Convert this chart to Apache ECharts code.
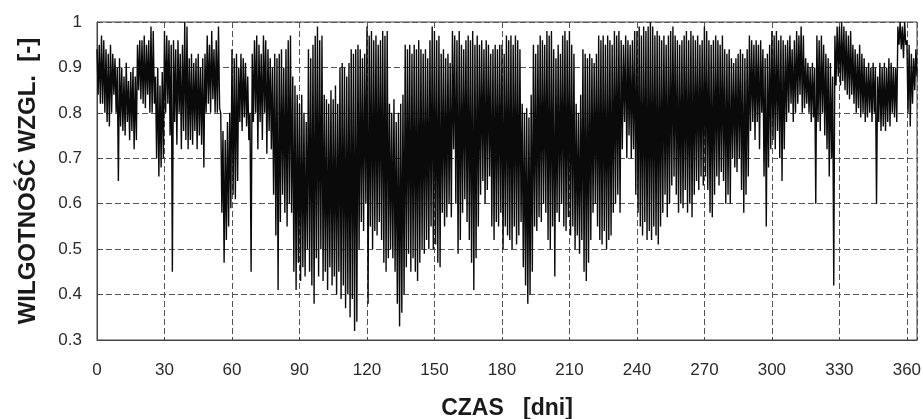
<!DOCTYPE html>
<html>
<head>
<meta charset="utf-8">
<script src="https://cdn.jsdelivr.net/npm/echarts@6/dist/echarts.min.js"></script>
<style>html,body{margin:0;padding:0;background:#fff}#c{width:923px;height:419px}</style>
</head>
<body>
<div id="c"></div>
<script>
// daily maximum of relative humidity (day 0..364)
const dailyMax = [
0.94,0.95,0.97,0.96,0.94,0.93,0.95,0.93,0.92,0.90,
0.92,0.90,0.88,0.91,0.87,0.89,0.90,0.88,0.95,0.96,
0.96,0.97,0.95,0.96,0.99,0.98,0.88,0.90,0.86,0.89,
0.98,0.97,0.96,0.95,0.96,0.94,0.96,0.93,0.95,1.00,
0.99,0.92,0.93,0.91,0.92,0.93,0.90,0.92,0.93,0.97,
0.95,0.98,0.94,0.96,0.99,0.80,0.76,0.74,0.78,0.80,
0.94,0.92,0.93,0.90,0.93,0.92,0.91,0.88,0.80,0.93,
0.96,0.97,0.95,0.93,0.97,0.96,0.94,0.92,0.90,0.93,
0.92,0.93,0.94,0.90,0.94,0.96,0.97,0.88,0.86,0.84,
0.82,0.84,0.80,0.78,0.94,0.92,0.95,0.97,0.99,0.96,
0.97,0.84,0.83,0.82,0.85,0.83,0.86,0.82,0.90,0.91,
0.90,0.88,0.91,0.94,0.93,0.94,0.95,0.94,0.92,0.93,
0.99,0.97,0.98,0.96,0.97,0.95,0.96,0.98,0.97,0.98,
0.82,0.80,0.83,0.78,0.80,0.82,0.84,0.95,0.94,0.95,
0.93,0.95,0.94,0.96,0.94,0.93,0.94,0.92,0.96,0.99,
0.98,0.96,0.97,0.93,0.94,0.92,0.93,0.91,0.98,0.97,
0.96,0.98,0.95,0.94,0.96,0.97,0.96,0.98,0.95,0.97,
0.95,0.96,0.94,0.96,0.95,0.93,0.94,0.95,0.94,0.95,
0.95,0.93,0.97,0.96,0.97,0.95,0.97,0.96,0.94,0.82,
0.80,0.81,0.79,0.84,0.95,0.93,0.95,0.97,0.96,0.95,
0.98,0.97,0.98,0.94,0.92,0.95,0.93,0.97,0.98,0.96,
0.98,0.95,0.93,0.82,0.80,0.84,0.94,0.93,0.92,0.93,
0.92,0.91,0.93,0.97,0.96,0.97,0.95,0.97,0.96,0.95,
0.98,0.97,0.98,0.96,0.95,0.97,0.96,0.95,0.96,0.98,
0.98,0.99,0.97,0.99,0.98,0.99,1.00,0.99,0.97,0.98,
0.97,0.96,0.97,0.95,0.97,0.98,0.99,0.97,0.96,0.95,
0.96,0.97,0.98,0.96,0.98,0.97,0.96,0.97,0.95,0.96,
0.99,0.98,0.96,0.95,0.96,0.97,0.96,0.95,0.97,0.94,
0.93,0.94,0.92,0.91,0.92,0.93,0.94,0.93,0.92,0.94,
0.97,0.96,0.95,0.96,0.95,0.96,0.94,0.92,0.93,0.95,
0.98,0.97,0.98,0.96,0.97,0.96,0.95,0.96,0.97,0.94,
0.96,0.98,0.97,0.99,0.97,0.92,0.91,0.90,0.91,0.90,
0.97,0.96,0.97,0.95,0.93,0.92,0.91,0.88,0.97,0.99,
0.99,1.00,0.99,0.98,0.97,0.98,0.95,0.94,0.93,0.95,
0.93,0.92,0.90,0.91,0.90,0.91,0.90,0.88,0.91,0.90,
0.91,0.90,0.92,0.91,0.90,0.90,0.99,1.00,0.99,1.00,
0.96,0.95,0.93,0.92,0.94
];
// daily minimum of relative humidity (day 0..364)
const dailyMin = [
0.84,0.82,0.82,0.80,0.78,0.77,0.80,0.84,0.80,0.65,
0.77,0.76,0.75,0.78,0.74,0.76,0.72,0.74,0.85,0.83,
0.82,0.81,0.84,0.80,0.80,0.82,0.70,0.66,0.68,0.70,
0.80,0.82,0.75,0.45,0.78,0.73,0.80,0.72,0.76,0.74,
0.72,0.74,0.73,0.76,0.72,0.75,0.73,0.68,0.80,0.82,
0.80,0.83,0.80,0.80,0.81,0.58,0.47,0.52,0.55,0.59,
0.62,0.61,0.65,0.78,0.76,0.79,0.77,0.74,0.45,0.78,
0.80,0.72,0.78,0.74,0.80,0.71,0.76,0.72,0.62,0.53,
0.41,0.56,0.62,0.58,0.55,0.60,0.58,0.45,0.41,0.47,
0.43,0.46,0.44,0.50,0.45,0.42,0.38,0.48,0.44,0.50,
0.43,0.45,0.41,0.46,0.42,0.44,0.40,0.45,0.39,0.42,
0.37,0.40,0.35,0.39,0.32,0.34,0.50,0.56,0.54,0.60,
0.38,0.55,0.50,0.54,0.53,0.56,0.52,0.47,0.45,0.48,
0.50,0.48,0.45,0.38,0.33,0.36,0.40,0.46,0.49,0.45,
0.48,0.45,0.43,0.47,0.50,0.49,0.52,0.50,0.55,0.50,
0.51,0.47,0.46,0.58,0.55,0.57,0.60,0.57,0.72,0.60,
0.49,0.52,0.58,0.61,0.56,0.52,0.47,0.41,0.48,0.55,
0.62,0.65,0.60,0.63,0.66,0.55,0.52,0.56,0.55,0.58,
0.50,0.55,0.53,0.52,0.50,0.55,0.51,0.53,0.56,0.46,
0.42,0.38,0.40,0.45,0.55,0.54,0.57,0.56,0.60,0.58,
0.52,0.50,0.55,0.44,0.58,0.56,0.60,0.55,0.54,0.57,
0.53,0.55,0.50,0.53,0.49,0.52,0.45,0.43,0.47,0.52,
0.58,0.60,0.55,0.52,0.51,0.54,0.50,0.52,0.53,0.58,
0.60,0.62,0.58,0.72,0.78,0.70,0.75,0.70,0.72,0.62,
0.58,0.55,0.53,0.56,0.52,0.54,0.52,0.55,0.53,0.51,
0.55,0.58,0.62,0.57,0.60,0.64,0.66,0.62,0.58,0.60,
0.59,0.63,0.58,0.60,0.57,0.62,0.65,0.63,0.66,0.64,
0.66,0.63,0.58,0.57,0.62,0.66,0.64,0.67,0.65,0.60,
0.62,0.60,0.70,0.68,0.67,0.70,0.63,0.58,0.62,0.66,
0.76,0.78,0.74,0.78,0.72,0.80,0.66,0.55,0.68,0.72,
0.74,0.72,0.76,0.70,0.65,0.72,0.78,0.80,0.82,0.78,
0.80,0.82,0.84,0.80,0.81,0.82,0.80,0.78,0.79,0.60,
0.78,0.76,0.80,0.75,0.72,0.66,0.70,0.42,0.86,0.88,
0.86,0.87,0.85,0.84,0.83,0.84,0.82,0.80,0.81,0.79,
0.80,0.78,0.79,0.80,0.78,0.80,0.60,0.78,0.76,0.77,
0.76,0.78,0.77,0.80,0.79,0.78,0.95,0.94,0.92,0.95,
0.80,0.77,0.82,0.85,0.88
];
const xTickStep = 30;
const yMin = 0.3, yMax = 1, yStep = 0.1;

const seriesData = [];
for (let d = 0; d < dailyMax.length; d++) {
  seriesData.push([d, dailyMax[d]]);
  seriesData.push([d + 0.5, dailyMin[d]]);
}

const chart = echarts.init(document.getElementById('c'), null, {renderer: 'canvas'});
const font = '"Liberation Sans", Arial, sans-serif';
chart.setOption({
  animation: false,
  backgroundColor: '#fff',
  grid: {left: 97, right: 6, top: 22, bottom: 79, outerBoundsMode: 'none', containLabel: false,
    show: true, borderColor: '#444', borderWidth: 1},
  xAxis: {
    type: 'value', min: 0, max: 364.5, interval: xTickStep,
    name: 'CZAS   [dni]', nameLocation: 'middle', nameGap: 57,
    nameTextStyle: {fontFamily: font, fontWeight: 'bold', fontSize: 23, color: '#1a1a1a'},
    axisLine: {show: true, lineStyle: {color: '#444', width: 1}},
    axisTick: {show: true, length: 3, inside: true, lineStyle: {color: '#444'}},
    axisLabel: {fontFamily: font, fontSize: 17, color: '#2a2a2a', margin: 22,
      formatter: v => (v % 30 === 0 ? String(v) : '')},
    splitLine: {show: true, lineStyle: {color: '#555', type: [6, 3], width: 1}}
  },
  yAxis: {
    type: 'value', min: yMin, max: yMax, interval: yStep,
    name: 'WILGOTNOŚĆ WZGL.  [-]', nameLocation: 'middle', nameGap: 57, nameRotate: 90,
    nameTextStyle: {fontFamily: font, fontWeight: 'bold', fontSize: 24, color: '#1a1a1a'},
    axisLine: {show: true, lineStyle: {color: '#444', width: 1}},
    axisTick: {show: true, length: 3, inside: true, lineStyle: {color: '#444'}},
    axisLabel: {fontFamily: font, fontSize: 17, color: '#2a2a2a', margin: 15,
      formatter: v => String(+v.toFixed(1))},
    splitLine: {show: true, lineStyle: {color: '#555', type: [6, 3], width: 1}}
  },
  series: [{
    type: 'line', data: seriesData, showSymbol: false, symbol: 'none',
    sampling: null, silent: true,
    lineStyle: {color: '#0a0a0a', width: 1.4}
  }]
});
</script>
</body>
</html>
